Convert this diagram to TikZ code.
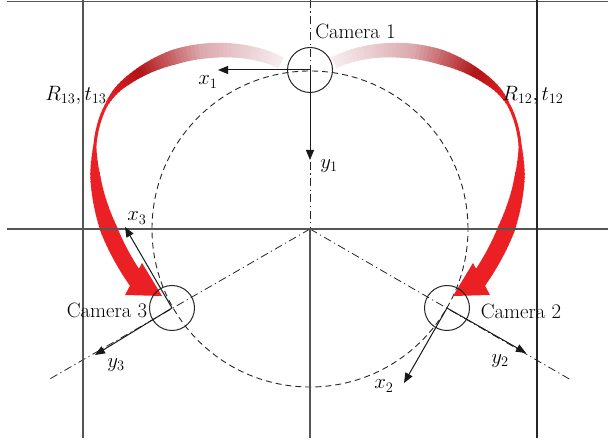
\documentclass[tikz,border=0pt]{standalone}
\usetikzlibrary{arrows.meta}
\DeclareMathSizes{20.74}{20.74}{14.4}{10}
\definecolor{framegray}{RGB}{85,85,85}
\definecolor{rc0}{RGB}{246,236,238}
\definecolor{rc1}{RGB}{220,168,172}
\definecolor{rc2}{RGB}{176,20,24}
\definecolor{rc3}{RGB}{234,32,36}
\newcommand\redribbon{%
  \foreach \ri in {0,...,99}{%
    \pgfmathsetmacro\rd{4*\ri}%
    \pgfmathsetmacro\rdown{min(15,12+3*\rd/70,15-(\rd-115)*7/45,8-(\rd-160)*4/30)}%
    \pgfmathsetmacro\rup{min(17,3+(\rd-235)*7/30,10+(\rd-265)*7/55)}%
    \pgfmathsetmacro\rw{max(3,\rdown,\rup)}%
    \pgfmathtruncatemacro\rpa{max(0,min(100,\rd/80*100))}%
    \pgfmathtruncatemacro\rpb{max(0,min(100,(\rd-80)/65*100))}%
    \pgfmathtruncatemacro\rpc{max(0,min(100,(\rd-145)/45*100))}%
    \colorlet{rA}{rc1!\rpa!rc0}%
    \colorlet{rB}{rc2!\rpb!rA}%
    \colorlet{rC}{rc3!\rpc!rB}%
    \draw[draw=rC, line width=\rw pt, dash pattern=on 0pt off \rd pt on 4.6pt off 3000pt]
      (281,63) .. controls (250,46) and (180,40) .. (126,82)
      .. controls (84,112) and (80,200) .. (137,281);
  }%
  \fill[rc3] (142,263) -- (125,295) -- (162,296) -- cycle;
}
\begin{document}
\begin{tikzpicture}[x=1pt,y=-1pt,
  every node/.style={font=\fontsize{20.74}{24}\selectfont, inner sep=0pt, text=black},
  frameline/.style={draw=framegray, line width=1.3pt},
  dashdot/.style={draw=black!85, line width=0.8pt, dash pattern=on 8pt off 3.5pt on 1.2pt off 3.5pt},
  guide/.style={draw=black!85, line width=0.9pt, dash pattern=on 6pt off 4pt},
  cam/.style={circle, draw=black!85, line width=1pt, minimum size=45pt, inner sep=0pt},
  axis/.style={draw=black!90, line width=1pt, -{Triangle[length=10pt,width=8pt]}},
]
\useasboundingbox (0,0) rectangle (608,443);

% guide circle and dash-dot lines
\coordinate (O) at (310,229);
\coordinate (topC) at (310,0);
\coordinate (botC) at (310,438);
\coordinate (dl) at (48,380);
\coordinate (dr) at (571,380);
\draw[guide] (O) circle[radius=158pt];
\draw[dashdot] (topC) -- (O);
\draw[dashdot] (O) -- (dl);
\draw[dashdot] (O) -- (dr);

% red ribbons
\redribbon
\begin{scope}[shift={(615,0)}, xscale=-1]
  \redribbon
\end{scope}

% frame lines
\draw[frameline] (7,1.2) -- (608,1.2);
\draw[frameline] (7,229) -- (608,229);
\draw[frameline] (83,0) -- (83,438);
\draw[frameline, draw=black!85] (537,0) -- (537,438);
\draw[frameline] (O) -- (botC);

% cameras
\node[cam] (c1) at (310,70) {};
\node[cam] (c3) at (172,308) {};
\node[cam] (c2) at (447,308) {};

\coordinate (x1e) at (218,70);
\coordinate (y1e) at (310,160);
\coordinate (x3e) at (125,227);
\coordinate (y3e) at (95,355);
\coordinate (x2e) at (404,383);
\coordinate (y2e) at (526,353);
\draw[axis] (c1.center) -- (x1e);
\draw[axis] (c1.center) -- (y1e);
\draw[axis] (c3.center) -- (x3e);
\draw[axis] (c3.center) -- (y3e);
\draw[axis] (c2.center) -- (x2e);
\draw[axis] (c2.center) -- (y2e);

% labels
\node (lx1) at (208,82) {$x_1$};
\node (ly1) at (329,166) {$y_1$};
\node (lx3) at (137,218) {$x_3$};
\node (ly3) at (116,365) {$y_3$};
\node (lx2) at (384,386) {$x_2$};
\node (ly2) at (500,361) {$y_2$};
\node (t1) at (355.5,31) {Camera 1};
\node (t3) at (107,310.5) {Camera 3};
\node (t2) at (521,311) {Camera 2};
\node (r13) at (76,95) {$R_{13},t_{13}$};
\node (r12) at (533,95) {$R_{12},t_{12}$};
\end{tikzpicture}
\end{document}
